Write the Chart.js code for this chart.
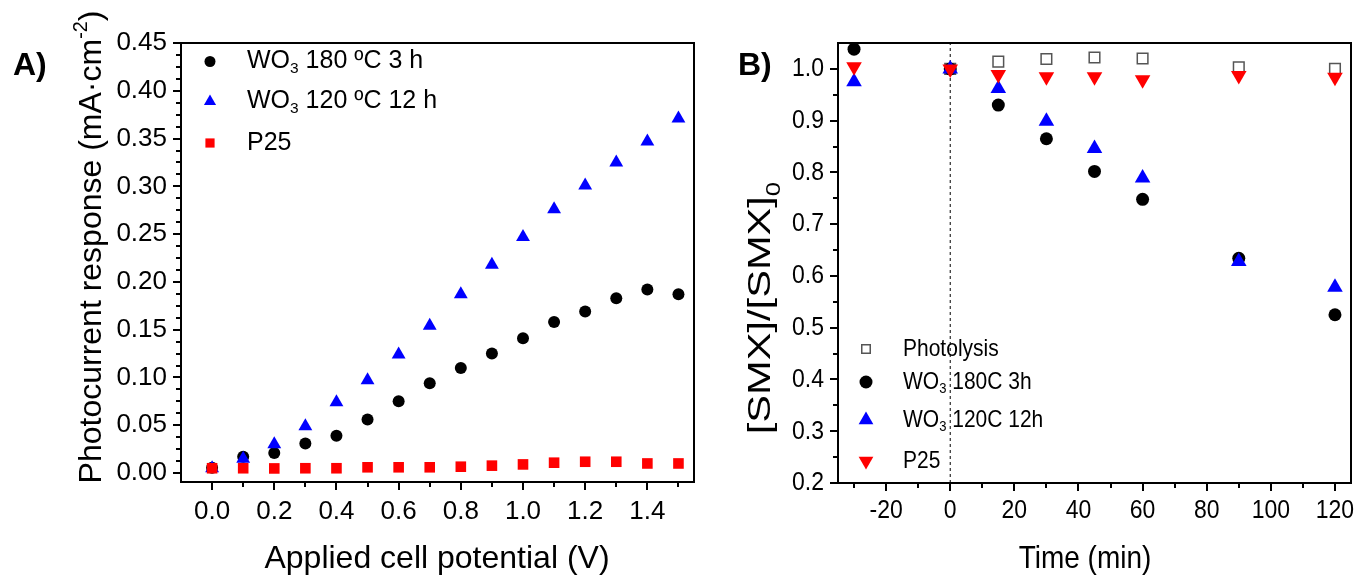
<!DOCTYPE html>
<html>
<head>
<meta charset="utf-8">
<script src="https://cdn.jsdelivr.net/npm/chart.js@4.4.1/dist/chart.umd.min.js"></script>
<style>
  html, body { margin: 0; padding: 0; background: #fff; }
  #wrap { position: relative; width: 1360px; height: 575px; overflow: hidden; }
  canvas { position: absolute; top: 0; }
  #chartA { left: 0; }
  #chartB { left: 710px; }
</style>
</head>
<body>
<div id="wrap">
  <canvas id="chartA" width="710" height="575"></canvas>
  <canvas id="chartB" width="650" height="575"></canvas>
</div>
<script>
// ---- panel A: photocurrent vs applied potential ----
const potential = [0.0, 0.1, 0.2, 0.3, 0.4, 0.5, 0.6, 0.7, 0.8, 0.9, 1.0, 1.1, 1.2, 1.3, 1.4, 1.5];
const wo3_180_3h = [0.0055, 0.017, 0.021, 0.031, 0.039, 0.056, 0.075, 0.094, 0.110, 0.125, 0.141, 0.158, 0.169, 0.183, 0.192, 0.187];
const wo3_120_12h = [0.005, 0.015, 0.030, 0.049, 0.074, 0.097, 0.124, 0.154, 0.187, 0.218, 0.247, 0.276, 0.301, 0.325, 0.347, 0.371];
const p25_current = [0.005, 0.005, 0.0048, 0.005, 0.005, 0.006, 0.006, 0.006, 0.0066, 0.0077, 0.009, 0.0108, 0.0118, 0.0118, 0.010, 0.010];
const potentialTicks = [0.0, 0.2, 0.4, 0.6, 0.8, 1.0, 1.2, 1.4];
const potentialMinor = [0.1, 0.3, 0.5, 0.7, 0.9, 1.1, 1.3, 1.5];
const currentTicks = [0, 0.05, 0.10, 0.15, 0.20, 0.25, 0.30, 0.35, 0.40, 0.45];

// ---- panel B: SMX degradation vs time ----
const timeMin = [-30, 0, 15, 30, 45, 60, 90, 120];
const photolysis = [null, 1.0, 1.014, 1.019, 1.022, 1.020, 1.003, 1.0];
const wo3_180C = [1.038, 1.0, 0.930, 0.865, 0.802, 0.748, 0.634, 0.525];
const wo3_120C = [0.975, 1.0, 0.962, 0.899, 0.846, 0.789, 0.628, 0.578];
const p25_smx = [1.004, 1.0, 0.989, 0.985, 0.985, 0.979, 0.987, 0.984];
const timeTicks = [-20, 0, 20, 40, 60, 80, 100, 120];
const timeMinor = [-30, -10, 10, 30, 50, 70, 90, 110];
const ratioTicks = [0.2, 0.3, 0.4, 0.5, 0.6, 0.7, 0.8, 0.9, 1.0];
const ratioMinor = [0.25, 0.35, 0.45, 0.55, 0.65, 0.75, 0.85, 0.95];

const FONT = "'Liberation Sans', Arial, Helvetica, sans-serif";
const BLUE = '#0000ff';
const RED = '#ff0000';
const STRETCH_B = 1.15; // panel B lettering is taller than it is wide

function pts(xs, ys) {
  return xs.map((x, i) => ({ x: x, y: ys[i] })).filter(p => p.y !== null);
}

// text with sub/superscript pieces; y is the baseline (or middle)
function richText(ctx, segs, x, y, size, opt) {
  opt = opt || {};
  const parts = segs.map(([t, k]) => {
    const s = k ? size * 0.62 : size;
    ctx.font = (opt.bold ? 'bold ' : '') + s + 'px ' + FONT;
    return { t, k, s, w: ctx.measureText(t).width };
  });
  const total = parts.reduce((a, p) => a + p.w, 0);
  ctx.save();
  ctx.translate(x, y);
  if (opt.sy) ctx.scale(1, opt.sy);
  if (opt.rotate) ctx.rotate(opt.rotate);
  ctx.fillStyle = '#000';
  ctx.textAlign = 'left';
  ctx.textBaseline = opt.baseline || 'alphabetic';
  let cx = opt.align === 'center' ? -total / 2 : opt.align === 'right' ? -total : 0;
  parts.forEach(p => {
    ctx.font = (opt.bold ? 'bold ' : '') + p.s + 'px ' + FONT;
    const dy = p.k === 'sub' ? size * 0.3 : p.k === 'sup' ? -size * 0.45 : 0;
    ctx.fillText(p.t, cx, dy);
    cx += p.w;
  });
  ctx.restore();
}

function tickMarks(ctx, scale, values, len) {
  const a = scale.chart.chartArea;
  ctx.beginPath();
  values.forEach(v => {
    const p = Math.round(scale.getPixelForValue(v));
    if (scale.isHorizontal()) {
      ctx.moveTo(p, a.bottom);
      ctx.lineTo(p, a.bottom + len);
    } else {
      ctx.moveTo(a.left, p);
      ctx.lineTo(a.left - len, p);
    }
  });
  ctx.stroke();
}

// frame, tick marks, titles, legend, panel letter
function decorPlugin(cfg) {
  return {
    id: 'decor',
    afterDraw(chart) {
      const ctx = chart.ctx;
      const a = chart.chartArea;
      const sx = chart.scales.x, sy = chart.scales.y;
      ctx.save();
      ctx.strokeStyle = '#000';
      ctx.lineWidth = 2;
      ctx.strokeRect(a.left, a.top, a.right - a.left, a.bottom - a.top);
      tickMarks(ctx, sx, cfg.xMajor, 8);
      tickMarks(ctx, sx, cfg.xMinor, 5);
      tickMarks(ctx, sy, cfg.yMajor, 8);
      tickMarks(ctx, sy, cfg.yMinor, 5);
      if (cfg.tickText) {
        const tt = cfg.tickText;
        cfg.xMajor.forEach(v => richText(ctx, [[tt.x(v)]], sx.getPixelForValue(v), tt.xMid,
          tt.size, { align: 'center', baseline: 'middle', sy: tt.sy }));
        cfg.yMajor.forEach(v => richText(ctx, [[tt.y(v)]], a.left - tt.pad, sy.getPixelForValue(v),
          tt.size, { align: 'right', baseline: 'middle', sy: tt.sy }));
      }
      cfg.texts.forEach(t => richText(ctx, t.segs, t.x, t.y, t.size, t));
      cfg.legend.forEach(item => {
        ctx.fillStyle = item.fill;
        ctx.strokeStyle = item.stroke || item.fill;
        ctx.lineWidth = item.borderWidth || 0;
        Chart.helpers.drawPoint(ctx, {
          pointStyle: item.style, radius: item.radius,
          rotation: item.rotation || 0, borderWidth: item.borderWidth || 0
        }, item.mx, item.my);
        richText(ctx, item.segs, item.tx, item.my, item.size,
          { baseline: 'middle', sy: cfg.legendStretch });
      });
      ctx.restore();
    }
  };
}

function fixedTicks(values) {
  return s => { s.ticks = values.map(v => ({ value: v })); };
}

// ---------- Panel A ----------
const minorA = [];
for (let i = 0; i < 36; i++) {
  const v = Math.round(i * 125) / 10000;
  if (i % 4 !== 0 && v <= 0.45) minorA.push(v);
}

new Chart(document.getElementById('chartA'), {
  type: 'scatter',
  data: {
    datasets: [
      { label: 'WO3 180 ºC 3 h', data: pts(potential, wo3_180_3h), pointStyle: 'circle',
        pointRadius: 6, backgroundColor: '#000', borderWidth: 0, order: 3 },
      { label: 'WO3 120 ºC 12 h', data: pts(potential, wo3_120_12h), pointStyle: 'triangle',
        pointRadius: 8, backgroundColor: BLUE, borderWidth: 0, order: 2 },
      { label: 'P25', data: pts(potential, p25_current), pointStyle: 'rect',
        pointRadius: 7.5, backgroundColor: RED, borderWidth: 0, order: 1 }
    ]
  },
  options: {
    responsive: false,
    animation: false,
    events: [],
    layout: { padding: { left: 0, top: 43, right: 16, bottom: 0 } },
    plugins: { legend: { display: false }, tooltip: { enabled: false } },
    scales: {
      x: {
        type: 'linear', min: -0.1, max: 1.55,
        afterBuildTicks: fixedTicks(potentialTicks),
        afterFit: s => { s.height = 93; },
        grid: { display: false, drawTicks: false }, border: { display: false },
        ticks: { font: { family: FONT, size: 26 }, color: '#000', padding: 14, autoSkip: false,
          maxRotation: 0, callback: v => v.toFixed(1) }
      },
      y: {
        type: 'linear', min: -0.0094, max: 0.45,
        afterBuildTicks: fixedTicks(currentTicks),
        afterFit: s => { s.width = 181; },
        grid: { display: false, drawTicks: false }, border: { display: false },
        ticks: { font: { family: FONT, size: 26 }, color: '#000', padding: 14, autoSkip: false,
          callback: v => v.toFixed(2) }
      }
    }
  },
  plugins: [decorPlugin({
    xMajor: potentialTicks, xMinor: potentialMinor,
    yMajor: currentTicks, yMinor: minorA,
    legendStretch: 1,
    texts: [
      { segs: [['A)']], x: 13, y: 75, size: 32, bold: true },
      { segs: [['Applied cell potential (V)']], x: 437, y: 568, size: 32, align: 'center' },
      { segs: [['Photocurrent response (mA·cm'], ['-2', 'sup'], [')']], x: 101, y: 247, size: 32,
        align: 'center', rotate: -Math.PI / 2 }
    ],
    legend: [
      { style: 'circle', radius: 5.5, fill: '#000', mx: 210, my: 61.5, tx: 247, size: 25,
        segs: [['WO'], ['3', 'sub'], [' 180 ºC 3 h']] },
      { style: 'triangle', radius: 7, fill: BLUE, mx: 210, my: 101.5, tx: 247, size: 25,
        segs: [['WO'], ['3', 'sub'], [' 120 ºC 12 h']] },
      { style: 'rect', radius: 6.5, fill: RED, mx: 210, my: 143, tx: 247, size: 25,
        segs: [['P25']] }
    ]
  })]
});

// ---------- Panel B ----------
new Chart(document.getElementById('chartB'), {
  type: 'scatter',
  data: {
    datasets: [
      { label: 'zero', data: [{ x: 0, y: 0.2 }, { x: 0, y: 1.05 }], showLine: true,
        borderColor: '#000', borderWidth: 1, borderDash: [3, 3], pointRadius: 0, order: 5 },
      { label: 'Photolysis', data: pts(timeMin, photolysis), pointStyle: 'rect',
        pointRadius: 7.5, backgroundColor: '#fff', borderColor: '#555', borderWidth: 1.5, order: 4 },
      { label: 'WO3 180C 3h', data: pts(timeMin, wo3_180C), pointStyle: 'circle',
        pointRadius: 6.5, backgroundColor: '#000', borderWidth: 0, order: 3 },
      { label: 'WO3 120C 12h', data: pts(timeMin, wo3_120C), pointStyle: 'triangle',
        pointRadius: 9, backgroundColor: BLUE, borderWidth: 0, order: 2 },
      { label: 'P25', data: pts(timeMin, p25_smx), pointStyle: 'triangle', rotation: 180,
        pointRadius: 9, backgroundColor: RED, borderWidth: 0, order: 1 }
    ]
  },
  options: {
    responsive: false,
    animation: false,
    events: [],
    layout: { padding: { left: 0, top: 43, right: 8, bottom: 0 } },
    plugins: { legend: { display: false }, tooltip: { enabled: false } },
    scales: {
      x: {
        type: 'linear', min: -35, max: 125,
        afterBuildTicks: fixedTicks(timeTicks),
        afterFit: s => { s.height = 92; },
        grid: { display: false, drawTicks: false }, border: { display: false },
        ticks: { display: false }
      },
      y: {
        type: 'linear', min: 0.2, max: 1.05,
        afterBuildTicks: fixedTicks(ratioTicks),
        afterFit: s => { s.width = 128; },
        grid: { display: false, drawTicks: false }, border: { display: false },
        ticks: { display: false }
      }
    }
  },
  plugins: [decorPlugin({
    xMajor: timeTicks, xMinor: timeMinor,
    yMajor: ratioTicks, yMinor: ratioMinor,
    tickText: { size: 23, sy: STRETCH_B, xMid: 511, pad: 14,
      x: v => String(v), y: v => v.toFixed(1) },
    legendStretch: STRETCH_B,
    texts: [
      { segs: [['B)']], x: 28, y: 75, size: 32, bold: true },
      { segs: [['Time (min)']], x: 375, y: 568, size: 28, align: 'center', sy: STRETCH_B },
      { segs: [['[SMX]/[SMX]'], ['0', 'sub']], x: 60, y: 308, size: 32, sy: 1.3,
        align: 'center', rotate: -Math.PI / 2 }
    ],
    legend: [
      { style: 'rect', radius: 6, fill: '#fff', stroke: '#555', borderWidth: 1.5,
        mx: 156, my: 349, tx: 193, size: 21, segs: [['Photolysis']] },
      { style: 'circle', radius: 6.5, fill: '#000', mx: 156, my: 382, tx: 193, size: 21,
        segs: [['WO'], ['3', 'sub'], [' 180C 3h']] },
      { style: 'triangle', radius: 8.5, fill: BLUE, mx: 156, my: 420, tx: 193, size: 21,
        segs: [['WO'], ['3', 'sub'], [' 120C 12h']] },
      { style: 'triangle', rotation: 180, radius: 8.5, fill: RED, mx: 156, my: 461, tx: 193, size: 21,
        segs: [['P25']] }
    ]
  })]
});
</script>
</body>
</html>
